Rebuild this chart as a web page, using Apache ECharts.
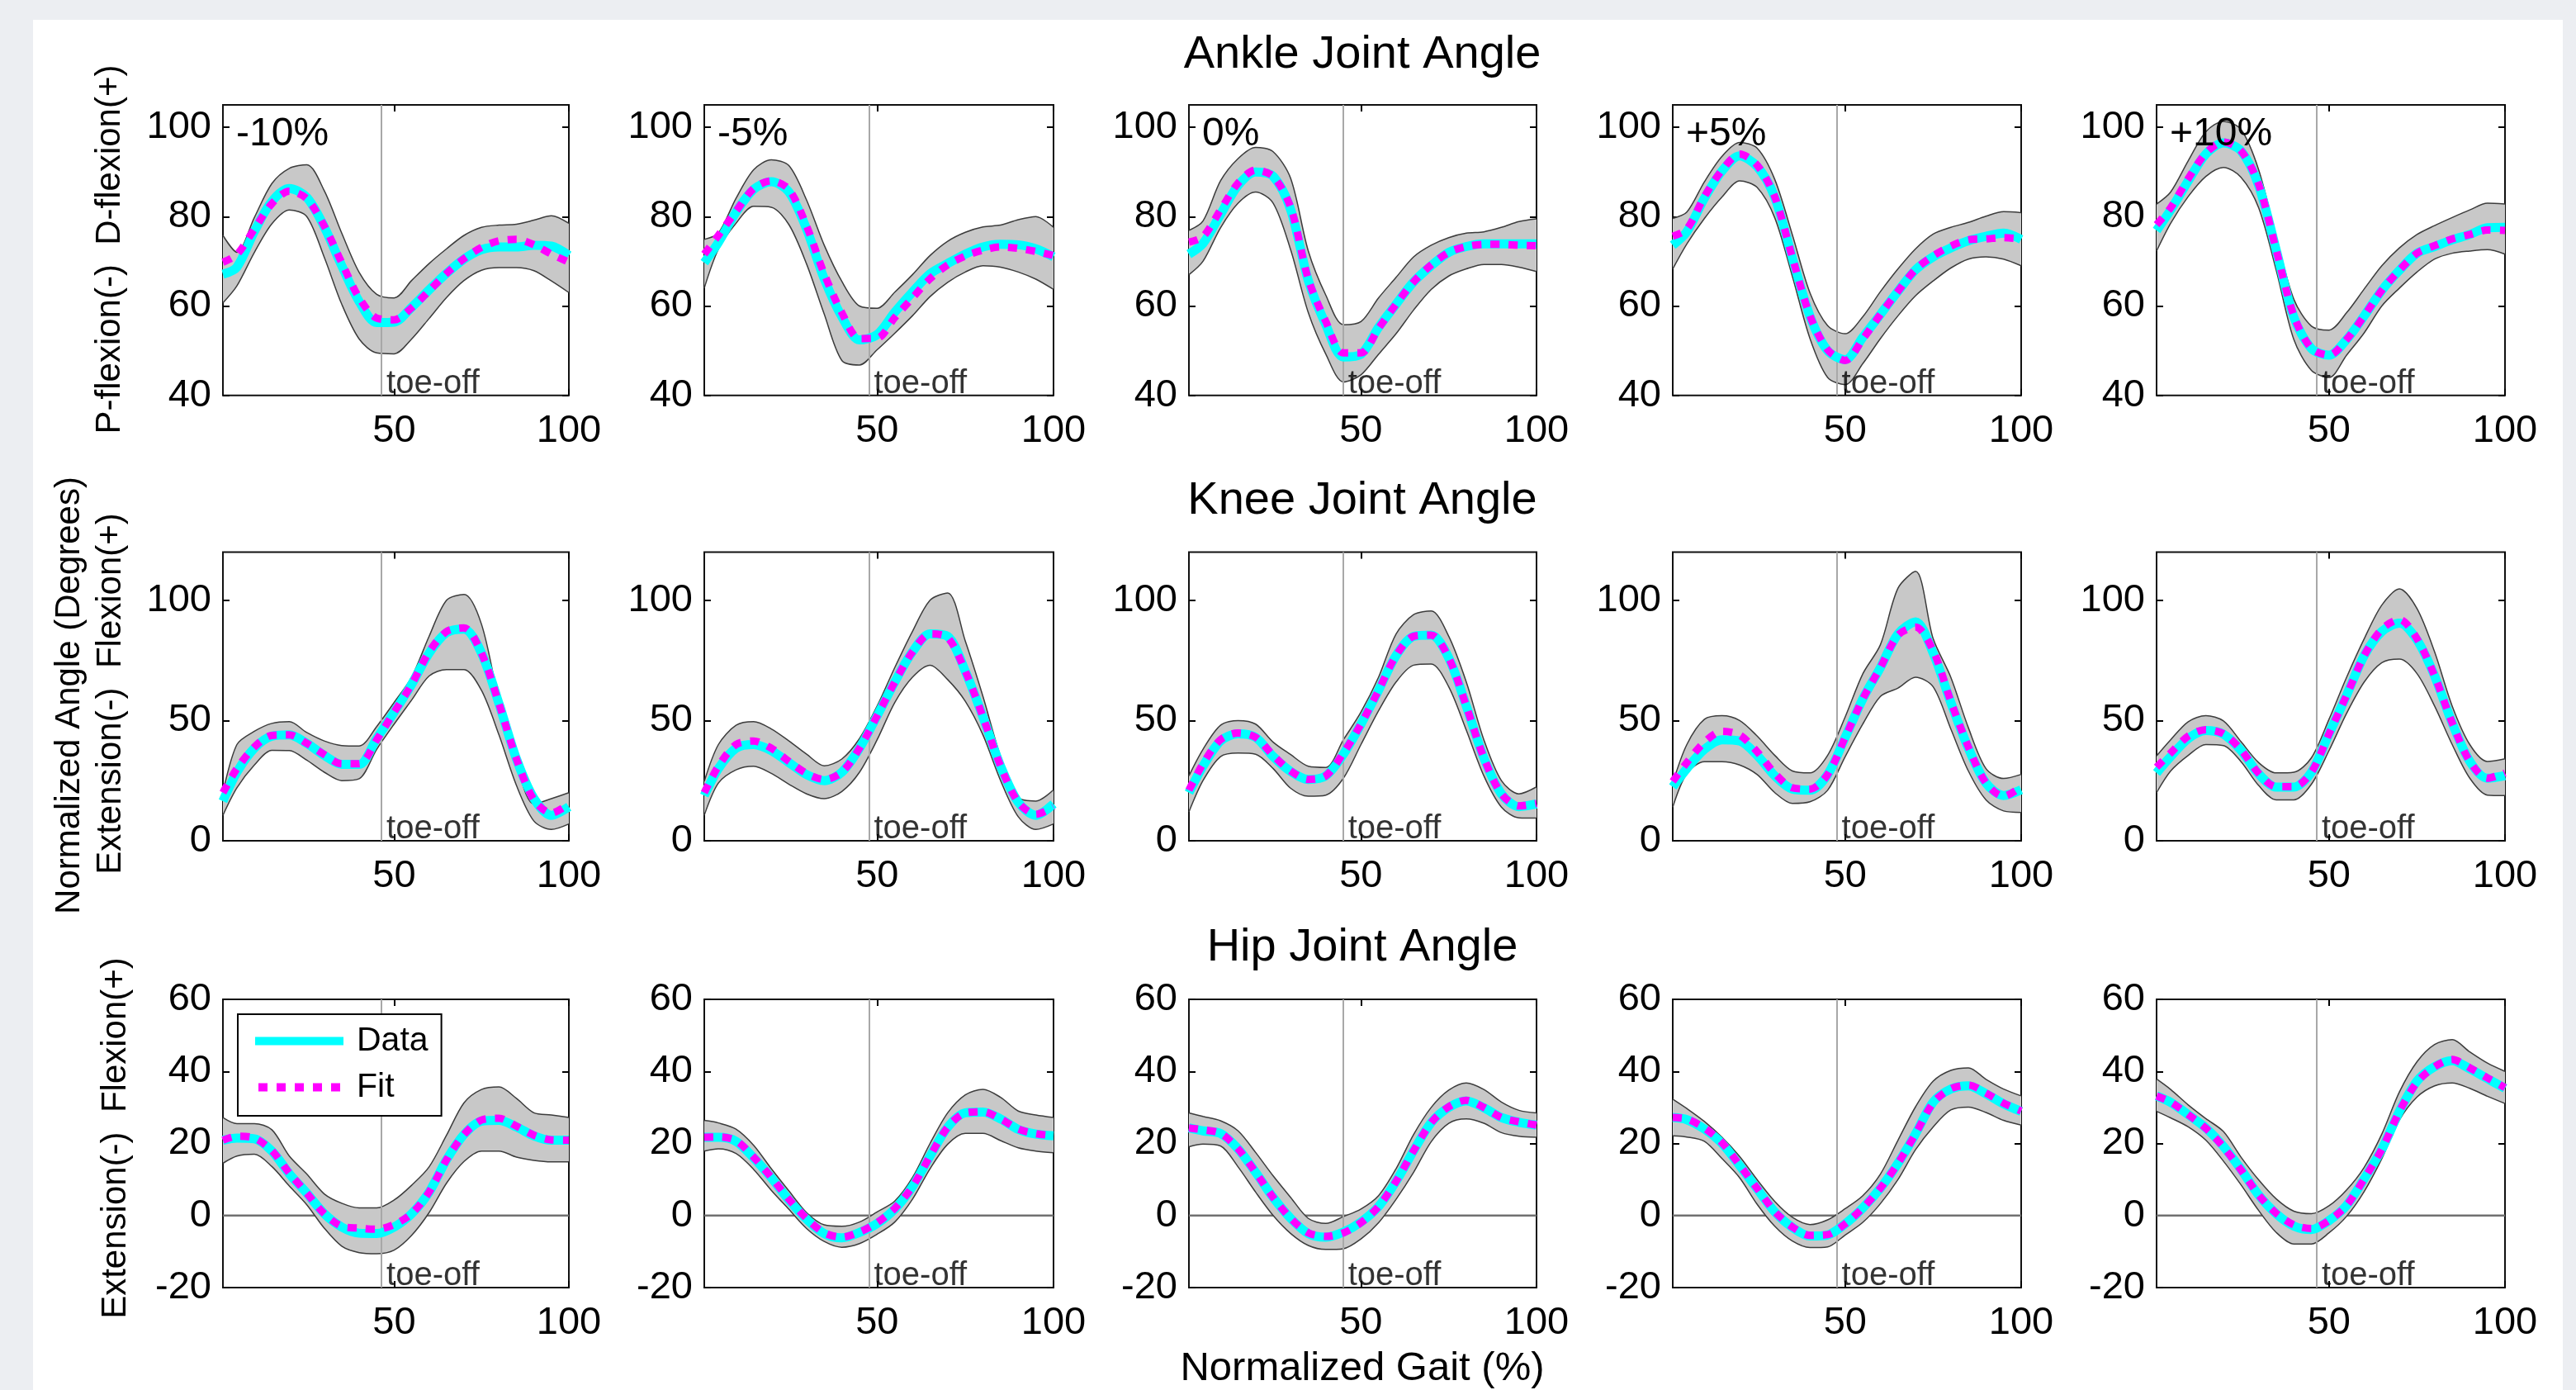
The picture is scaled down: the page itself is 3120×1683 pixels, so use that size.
<!DOCTYPE html>
<html>
<head>
<meta charset="utf-8">
<title>Joint Angles</title>
<script src="https://cdn.jsdelivr.net/npm/echarts@6/dist/echarts.min.js"></script>
<style>
html, body { margin: 0; padding: 0; background: #eceef2; }
#chart { width: 3120px; height: 1683px; }
</style>
</head>
<body>
<div id="chart"></div>
<script>
// gait cycle samples (%)
var gaitPct = [1, 5, 10, 15, 20, 25, 30, 35, 40, 45, 50, 55, 60, 65, 70, 75, 80, 85, 90, 95, 100];
var speeds = ['-10%', '-5%', '0%', '+5%', '+10%'];
var toeOff = [46.4, 47.7, 44.9, 47.6, 46.5];
var gaitTicks = [50, 100];
var ankleTicks = [40, 60, 80, 100];
var kneeTicks = [0, 50, 100];
var hipTicks = [-20, 0, 20, 40, 60];

// ankle: one row per speed
var ankleUpper = [
    [75.8, 72.0, 79.8, 87.4, 90.8, 91.6, 85.8, 76.3, 67.5, 62.6, 61.8, 65.7, 69.5, 72.8, 75.8, 77.6, 78.1, 78.3, 79.2, 80.2, 78.5],
    [74.9, 76.3, 84.1, 90.5, 92.7, 91.4, 83.7, 73.6, 65.5, 60.0, 59.5, 63.1, 67.0, 71.3, 74.5, 76.5, 77.7, 78.1, 79.3, 80.0, 77.6],
    [76.9, 79.0, 88.0, 93.0, 95.5, 94.5, 88.5, 72.3, 62.4, 55.8, 56.5, 61.8, 66.4, 71.0, 73.6, 75.3, 76.3, 76.6, 77.6, 78.9, 79.5],
    [79.6, 81.0, 87.8, 93.5, 96.6, 95.3, 88.3, 75.9, 62.9, 55.6, 53.8, 57.6, 63.2, 68.3, 72.8, 76.1, 77.6, 78.7, 80.1, 81.1, 80.9],
    [82.8, 85.5, 92.5, 99.0, 101.3, 99.5, 90.5, 75.5, 61.5, 55.5, 54.6, 58.5, 63.8, 69.0, 73.0, 76.0, 78.0, 79.8, 81.5, 83.0, 82.8]
];
var ankleLower = [
    [60.7, 64.5, 72.0, 78.4, 81.5, 80.0, 70.9, 60.4, 52.6, 49.5, 49.3, 52.6, 57.2, 61.9, 65.7, 68.0, 68.6, 68.6, 67.9, 65.6, 63.0],
    [64.0, 72.7, 78.5, 82.3, 82.1, 78.2, 69.4, 58.2, 47.8, 46.8, 50.2, 53.9, 57.8, 62.1, 65.3, 67.6, 69.0, 68.7, 67.6, 66.0, 63.7],
    [67.0, 70.0, 77.5, 83.0, 85.5, 83.0, 72.5, 58.5, 49.2, 43.0, 44.6, 49.2, 53.8, 59.1, 63.7, 66.7, 68.3, 69.3, 69.3, 68.7, 67.7],
    [68.3, 73.9, 79.6, 84.4, 88.0, 86.5, 79.7, 66.6, 52.7, 44.0, 42.4, 47.1, 52.7, 57.8, 62.3, 65.6, 68.5, 70.5, 71.0, 70.5, 69.0],
    [72.3, 78.5, 84.5, 89.0, 91.0, 88.8, 82.0, 68.0, 52.5, 45.6, 44.0, 49.0, 54.0, 60.0, 64.0, 67.6, 70.5, 71.8, 72.3, 72.6, 71.6]
];
var ankleData = [
    [67.1, 68.7, 76.7, 83.4, 86.3, 84.3, 77.7, 69.0, 61.0, 56.3, 56.4, 59.7, 63.6, 67.3, 70.5, 72.6, 73.2, 73.2, 73.6, 73.4, 71.3],
    [69.7, 74.2, 81.0, 86.1, 87.8, 85.5, 77.2, 66.1, 57.6, 52.4, 53.6, 58.6, 63.1, 67.2, 69.5, 71.6, 73.2, 73.8, 73.7, 72.8, 71.0],
    [71.6, 74.0, 80.5, 87.0, 90.0, 89.0, 81.5, 65.7, 55.8, 48.6, 49.2, 55.2, 60.4, 65.4, 69.0, 72.0, 73.3, 73.9, 73.9, 73.9, 73.9],
    [73.6, 76.6, 84.1, 90.2, 93.6, 91.2, 84.3, 70.7, 57.7, 50.0, 48.0, 53.0, 58.1, 63.3, 68.1, 71.0, 73.0, 74.6, 75.6, 76.3, 74.9],
    [76.9, 81.5, 88.0, 94.0, 96.5, 94.7, 87.0, 72.5, 57.5, 50.5, 49.0, 52.5, 57.8, 63.5, 68.0, 71.8, 73.3, 74.8, 76.0, 77.5, 77.6]
];
var ankleFit = [
    [69.8, 71.5, 77.2, 82.9, 85.7, 84.0, 77.9, 69.7, 61.8, 57.3, 56.9, 59.6, 63.4, 67.3, 70.6, 73.1, 74.6, 74.9, 73.7, 71.6, 69.8],
    [71.6, 75.8, 81.2, 86.3, 88.0, 86.1, 77.9, 67.2, 58.5, 52.7, 52.8, 57.4, 61.8, 66.1, 69.2, 71.2, 72.5, 73.2, 72.9, 72.2, 71.3],
    [74.3, 75.5, 81.5, 87.5, 90.4, 89.0, 82.0, 66.0, 56.5, 49.5, 49.5, 55.0, 60.4, 65.4, 69.2, 72.0, 73.3, 73.8, 73.8, 73.6, 73.5],
    [75.6, 77.2, 84.5, 90.4, 94.0, 91.5, 84.4, 70.8, 57.8, 50.2, 47.8, 52.6, 58.1, 63.3, 68.2, 71.2, 73.4, 74.8, 75.0, 75.3, 75.0],
    [78.2, 82.0, 88.5, 94.2, 96.7, 94.7, 87.2, 72.5, 57.8, 50.5, 49.0, 52.5, 57.8, 63.5, 68.0, 71.8, 73.5, 75.0, 76.0, 77.0, 76.9]
];

// knee
var kneeUpper = [
    [20.0, 40.0, 45.5, 48.8, 49.5, 45.0, 41.5, 39.6, 39.4, 47.5, 57.5, 68.0, 85.0, 100.0, 102.4, 90.0, 58.0, 32.0, 15.3, 17.5, 20.0],
    [24.7, 40.0, 48.0, 49.5, 46.5, 41.5, 36.0, 31.2, 34.0, 42.5, 56.0, 72.0, 87.0, 100.0, 103.0, 83.0, 60.0, 35.0, 18.0, 16.5, 21.2],
    [27.0, 38.0, 48.0, 50.0, 48.5, 41.0, 35.8, 31.0, 30.5, 42.0, 53.5, 68.0, 86.0, 94.0, 95.5, 85.0, 66.0, 42.0, 25.0, 19.5, 22.4],
    [24.0, 40.0, 50.5, 52.0, 50.0, 43.5, 35.5, 29.0, 28.2, 35.5, 51.5, 69.4, 81.5, 105.0, 112.0, 84.0, 68.0, 47.0, 30.0, 25.9, 27.6],
    [35.3, 42.0, 49.5, 52.0, 49.8, 41.2, 32.5, 28.2, 28.5, 34.5, 50.5, 68.0, 84.0, 98.0, 104.7, 96.5, 78.5, 56.0, 40.0, 33.0, 34.1]
];
var kneeLower = [
    [10.6, 22.0, 31.5, 37.6, 37.5, 33.5, 28.5, 25.0, 25.8, 38.0, 48.5, 58.5, 68.5, 71.2, 71.2, 62.5, 44.0, 23.0, 8.2, 4.7, 7.0],
    [10.6, 24.0, 29.5, 31.0, 28.0, 23.5, 19.5, 17.5, 20.5, 28.5, 42.0, 57.5, 68.0, 73.0, 67.0, 58.0, 44.0, 25.0, 10.0, 4.7, 7.0],
    [12.0, 25.0, 35.0, 36.5, 36.0, 30.0, 21.8, 18.5, 19.0, 26.0, 40.0, 54.0, 66.0, 73.0, 73.5, 64.0, 46.0, 27.0, 14.0, 9.5, 9.4],
    [14.0, 28.0, 32.9, 32.9, 31.5, 27.5, 20.0, 15.5, 16.2, 21.0, 35.0, 48.5, 60.0, 63.5, 68.0, 64.0, 46.5, 29.0, 17.0, 12.4, 11.8],
    [20.0, 29.0, 35.5, 40.0, 39.6, 32.9, 23.0, 17.0, 17.0, 23.5, 37.5, 53.0, 66.0, 74.0, 75.5, 69.5, 56.0, 40.0, 26.0, 19.0, 18.8]
];
var kneeData = [
    [16.5, 28.5, 38.5, 43.5, 44.0, 40.5, 35.5, 31.8, 31.8, 42.5, 53.5, 65.0, 78.0, 86.5, 88.0, 78.0, 57.0, 34.0, 17.6, 10.6, 14.1],
    [18.8, 30.0, 38.5, 40.0, 37.5, 32.5, 27.5, 25.0, 28.5, 38.5, 52.0, 66.0, 78.5, 86.0, 85.0, 70.5, 51.5, 31.0, 16.0, 10.6, 15.3],
    [20.0, 31.0, 41.5, 44.5, 43.0, 35.0, 28.8, 25.5, 27.0, 36.0, 48.5, 62.5, 77.0, 85.0, 85.5, 76.0, 56.0, 34.5, 19.5, 14.2, 15.3],
    [22.4, 30.0, 38.0, 42.0, 41.5, 35.5, 27.0, 21.5, 21.0, 27.5, 43.0, 59.0, 72.0, 86.0, 91.0, 78.0, 57.5, 38.5, 24.0, 18.8, 21.2],
    [28.2, 35.0, 42.5, 45.8, 44.3, 37.6, 27.8, 22.3, 22.3, 28.5, 44.5, 60.5, 77.0, 87.0, 90.5, 83.5, 68.5, 49.0, 33.0, 26.0, 27.1]
];
var kneeFit = [
    [20.0, 30.0, 39.0, 43.8, 44.0, 40.5, 35.8, 32.0, 32.0, 42.0, 53.5, 65.0, 78.5, 87.0, 88.5, 78.0, 57.0, 34.0, 17.0, 11.5, 15.3],
    [20.0, 31.0, 40.0, 41.5, 38.5, 33.0, 28.0, 25.5, 28.5, 38.5, 52.0, 66.0, 78.5, 86.0, 84.5, 70.5, 51.5, 31.0, 16.0, 11.0, 14.1],
    [21.0, 32.0, 42.0, 44.8, 43.0, 35.5, 29.0, 25.5, 27.0, 36.5, 48.5, 62.5, 77.0, 85.0, 85.5, 76.0, 56.0, 34.5, 19.5, 14.5, 15.5],
    [24.7, 32.5, 41.0, 45.5, 44.0, 37.0, 28.0, 22.0, 21.5, 27.5, 43.0, 59.0, 72.0, 85.5, 88.8, 79.0, 58.0, 39.0, 24.0, 18.5, 22.4],
    [30.6, 36.5, 43.5, 46.2, 44.5, 37.8, 28.0, 22.5, 22.5, 28.5, 44.5, 60.5, 77.0, 88.0, 92.0, 84.0, 68.5, 49.0, 33.0, 26.0, 28.2]
];

// hip
var hipUpper = [
    [27.2, 25.5, 25.5, 23.8, 16.5, 11.5, 6.0, 3.4, 2.1, 2.1, 4.3, 8.4, 13.5, 22.3, 31.3, 35.0, 35.7, 32.5, 28.5, 27.9, 27.2],
    [26.4, 25.7, 24.0, 19.5, 13.0, 6.8, 0.8, -2.6, -3.0, -1.8, 1.0, 4.0, 10.5, 20.0, 28.5, 33.5, 35.0, 32.8, 29.0, 27.9, 27.2],
    [28.5, 27.5, 26.3, 23.5, 17.5, 11.0, 5.0, -0.8, -2.2, -0.3, 1.8, 5.5, 13.0, 22.5, 30.0, 34.8, 36.8, 35.0, 31.5, 29.2, 28.5],
    [32.3, 29.7, 26.1, 21.7, 16.4, 9.9, 3.9, -0.5, -2.5, -1.2, 1.9, 5.5, 11.5, 20.9, 30.2, 37.3, 40.3, 41.0, 37.8, 35.1, 33.2],
    [37.9, 35.0, 30.7, 26.9, 23.3, 16.2, 9.9, 4.6, 1.2, 0.5, 2.7, 7.1, 13.4, 22.6, 34.3, 42.7, 47.5, 48.8, 45.4, 42.3, 40.0]
];
var hipLower = [
    [14.5, 16.5, 17.0, 13.6, 8.2, 3.0, -3.5, -8.5, -10.3, -10.6, -9.6, -5.5, 0.8, 9.0, 15.0, 17.9, 17.9, 16.2, 15.3, 14.9, 14.9],
    [17.9, 18.5, 17.2, 12.8, 7.0, 1.7, -3.6, -7.2, -8.8, -7.8, -5.2, -1.8, 4.5, 13.0, 19.8, 22.8, 22.8, 20.8, 18.8, 17.9, 17.4],
    [19.1, 19.8, 19.3, 13.5, 6.5, 0.0, -5.0, -8.3, -9.4, -9.2, -6.5, -2.0, 4.5, 12.0, 20.5, 25.6, 26.8, 25.6, 23.0, 22.0, 21.7],
    [22.1, 21.8, 20.6, 15.8, 10.5, 3.1, -3.0, -7.1, -8.9, -8.7, -5.4, -1.9, 3.3, 10.0, 18.3, 24.6, 29.3, 30.1, 28.6, 26.4, 25.1],
    [28.9, 27.1, 24.6, 20.9, 15.1, 8.5, 1.4, -4.7, -7.9, -7.9, -4.8, -0.2, 6.7, 15.8, 26.5, 32.9, 36.0, 36.8, 35.3, 33.1, 31.1]
];
var hipData = [
    [20.9, 21.5, 21.3, 17.9, 11.6, 6.2, 0.5, -3.2, -4.9, -5.0, -3.2, 0.5, 6.5, 15.5, 22.5, 26.2, 26.4, 24.6, 22.1, 20.9, 20.9],
    [21.7, 21.7, 20.6, 16.0, 10.5, 4.3, -1.0, -5.0, -6.2, -4.7, -2.2, 1.8, 8.0, 16.5, 24.5, 28.5, 28.7, 26.8, 23.9, 22.6, 22.1],
    [24.3, 23.5, 22.8, 18.5, 12.0, 5.0, -0.8, -5.0, -6.0, -4.6, -1.8, 2.5, 9.5, 18.0, 25.8, 30.0, 31.8, 29.9, 27.2, 25.9, 25.1],
    [27.2, 26.6, 24.0, 20.0, 13.9, 7.4, 1.0, -3.3, -5.7, -5.4, -2.3, 2.1, 7.6, 14.5, 22.7, 31.5, 35.1, 36.0, 33.8, 31.0, 28.9],
    [33.2, 31.4, 28.0, 24.3, 19.2, 12.8, 5.7, 0.5, -2.9, -3.9, -1.4, 2.8, 10.2, 18.4, 28.9, 37.3, 41.3, 43.0, 40.7, 38.0, 35.3]
];
var hipFit = [
    [20.9, 22.0, 21.5, 18.0, 11.8, 6.2, 0.5, -3.0, -3.5, -3.8, -2.5, 0.5, 6.5, 15.5, 22.5, 26.5, 27.0, 24.8, 22.3, 21.0, 20.9],
    [21.7, 21.8, 20.8, 16.2, 10.6, 4.5, -0.8, -4.8, -6.0, -4.6, -2.0, 2.0, 8.0, 16.5, 24.5, 28.5, 28.8, 26.8, 24.0, 22.7, 22.2],
    [24.3, 23.8, 22.8, 18.5, 12.0, 5.0, -0.8, -4.8, -5.8, -4.8, -2.0, 2.5, 9.5, 18.0, 25.8, 30.2, 32.0, 30.0, 27.2, 26.0, 25.1],
    [27.2, 26.8, 24.3, 20.2, 14.0, 7.5, 1.1, -3.2, -5.5, -5.3, -2.3, 2.1, 7.6, 14.5, 22.7, 31.3, 35.2, 36.2, 34.0, 31.2, 29.0],
    [33.2, 31.5, 28.0, 24.2, 19.0, 12.6, 5.7, 0.6, -2.6, -3.6, -1.4, 2.8, 10.2, 18.4, 28.9, 37.0, 41.3, 43.3, 41.0, 38.2, 35.5]
];

var FONT = "'Liberation Sans', Arial, Helvetica, sans-serif";
var gridLeft = [270, 853, 1440, 2026, 2612];
var gridWidth = [419, 423, 421, 422, 422];
var gridTop = [127, 668.5, 1210];
var gridHeight = [351.7, 349.5, 349];

var rows = [
    {title: 'Ankle Joint Angle', titleY: 67, min: 40, max: 105, ticks: ankleTicks,
        upper: ankleUpper, lower: ankleLower, data: ankleData, fit: ankleFit},
    {title: 'Knee Joint Angle', titleY: 607, min: 0, max: 120, ticks: kneeTicks,
        upper: kneeUpper, lower: kneeLower, data: kneeData, fit: kneeFit},
    {title: 'Hip Joint Angle', titleY: 1148, min: -20, max: 60, ticks: hipTicks, zero: true,
        upper: hipUpper, lower: hipLower, data: hipData, fit: hipFit}
];

function pairs(vals) {
    return gaitPct.map(function (x, i) {
        return [x, vals[i]];
    });
}
// value first, so the band stack is done on the y dimension
function stackPairs(vals) {
    return gaitPct.map(function (x, i) {
        return [vals[i], x];
    });
}

var grids = [], xAxes = [], yAxes = [], series = [], graphics = [];

graphics.push({type: 'rect', z: -10, silent: true,
    shape: {x: 40, y: 24, width: 3064, height: 1659}, style: {fill: '#ffffff'}});

rows.forEach(function (row, r) {
    graphics.push({type: 'text', x: 1650, y: row.titleY, z: 20, silent: true,
        style: {text: row.title, fontSize: 56, fontFamily: FONT, fill: '#000', align: 'center', verticalAlign: 'middle'}});

    for (var c = 0; c < 5; c++) {
        var g = r * 5 + c;
        grids.push({left: gridLeft[c], top: gridTop[r], width: gridWidth[c], height: gridHeight[r],
            show: true, backgroundColor: '#fff', borderColor: '#111', borderWidth: 2});

        var tick = {show: true, inside: true, length: 8, lineStyle: {color: '#000', width: 2}};
        xAxes.push({gridIndex: g, type: 'value', position: 'bottom', min: 1, max: 100,
            axisLine: {show: false, onZero: false}, splitLine: {show: false},
            axisTick: Object.assign({customValues: gaitTicks}, tick),
            axisLabel: {customValues: gaitTicks, fontSize: 47, fontFamily: FONT, color: '#000', margin: 20}});
        xAxes.push({gridIndex: g, type: 'value', position: 'top', min: 1, max: 100,
            axisLine: {show: false, onZero: false}, splitLine: {show: false},
            axisTick: Object.assign({customValues: gaitTicks}, tick), axisLabel: {show: false}});
        yAxes.push({gridIndex: g, type: 'value', position: 'left', min: row.min, max: row.max,
            axisLine: {show: false, onZero: false}, splitLine: {show: false},
            axisTick: Object.assign({customValues: row.ticks}, tick),
            axisLabel: {customValues: row.ticks, fontSize: 47, fontFamily: FONT, color: '#000', margin: 14}});
        yAxes.push({gridIndex: g, type: 'value', position: 'right', min: row.min, max: row.max,
            axisLine: {show: false, onZero: false}, splitLine: {show: false},
            axisTick: Object.assign({customValues: row.ticks}, tick), axisLabel: {show: false}});

        var xi = 2 * g, yi = 2 * g;
        var lower = row.lower[c], upper = row.upper[c];
        var spread = upper.map(function (v, i) {
            return +(v - lower[i]).toFixed(2);
        });

        if (row.zero) {
            series.push({type: 'line', name: 'zero', xAxisIndex: xi, yAxisIndex: yi, z: 1, silent: true,
                data: [[1, 0], [100, 0]], symbol: 'none', lineStyle: {color: '#707070', width: 2.5}});
        }
        series.push({type: 'line', name: 'sdLow', xAxisIndex: xi, yAxisIndex: yi, z: 2, silent: true,
            encode: {x: 1, y: 0}, stack: 'sd' + g, stackStrategy: 'all', data: stackPairs(lower),
            symbol: 'none', smooth: 0.3, lineStyle: {color: '#3c3c3c', width: 1.5}});
        series.push({type: 'line', name: 'sdHigh', xAxisIndex: xi, yAxisIndex: yi, z: 2, silent: true,
            encode: {x: 1, y: 0}, stack: 'sd' + g, stackStrategy: 'all', data: stackPairs(spread),
            symbol: 'none', smooth: 0.3,
            lineStyle: {color: '#3c3c3c', width: 1.5}, areaStyle: {color: '#c8c8c8', opacity: 1},
            markLine: {silent: true, z: 3, symbol: ['none', 'none'], label: {show: false},
                lineStyle: {color: '#a8a8a8', width: 2, type: 'solid'}, data: [{xAxis: toeOff[c]}]}});
        series.push({type: 'line', name: 'Data', xAxisIndex: xi, yAxisIndex: yi, z: 4, silent: true,
            color: '#00ffff', data: pairs(row.data[c]), symbol: 'none', smooth: 0.3,
            lineStyle: {color: '#00ffff', width: 11}});
        series.push({type: 'line', name: 'Fit', xAxisIndex: xi, yAxisIndex: yi, z: 5, silent: true,
            color: '#ff00ff', data: pairs(row.fit[c]), symbol: 'none', smooth: 0.3,
            lineStyle: {color: '#ff00ff', width: 9, type: [11, 11], cap: 'butt'}});
        series.push({type: 'scatter', name: 'toe', xAxisIndex: xi, yAxisIndex: yi, z: 6, silent: true,
            data: [[toeOff[c], row.min]], symbolSize: 0.1, itemStyle: {color: 'transparent'},
            label: {show: true, formatter: 'toe-off', position: [6, 6], align: 'left', verticalAlign: 'bottom',
                fontSize: 40, fontFamily: FONT, color: '#000'}});

        if (r === 0) {
            graphics.push({type: 'text', x: gridLeft[c] + 16, y: 163, z: 20, silent: true,
                style: {text: speeds[c], fontSize: 48, fontFamily: FONT, fill: '#000', align: 'left', verticalAlign: 'middle'}});
        }
    }
});

// axis titles
[
    {text: 'P-flexion(-)  D-flexion(+)', x: 133, y: 302},
    {text: 'Normalized Angle (Degrees)', x: 84, y: 842},
    {text: 'Extension(-)  Flexion(+)', x: 134, y: 840},
    {text: 'Extension(-)  Flexion(+)', x: 140, y: 1378}
].forEach(function (t) {
    graphics.push({type: 'text', x: t.x, y: t.y, rotation: Math.PI / 2, z: 20, silent: true,
        style: {text: t.text, fontSize: 42, fontFamily: FONT, fill: '#000', align: 'center', verticalAlign: 'middle'}});
});
graphics.push({type: 'text', x: 1650, y: 1657, z: 20, silent: true,
    style: {text: 'Normalized Gait (%)', fontSize: 49, fontFamily: FONT, fill: '#000', align: 'center', verticalAlign: 'middle'}});

var chart = echarts.init(document.getElementById('chart'), null, {renderer: 'canvas'});
chart.setOption({
    backgroundColor: '#eceef2',
    animation: false,
    textStyle: {fontFamily: FONT},
    legend: {
        show: true, selectedMode: false, orient: 'vertical', left: 288, top: 1228, z: 10,
        padding: [12, 16, 14, 21], itemGap: 15, itemWidth: 107, itemHeight: 10,
        backgroundColor: '#fff', borderColor: '#000', borderWidth: 2,
        textStyle: {fontSize: 41, lineHeight: 41, fontFamily: FONT, color: '#000', padding: [0, 0, 0, 11]},
        data: [
            {name: 'Data', icon: 'rect'},
            {name: 'Fit', icon: 'path://M0,0h11v10h-11zM22,0h11v10h-11zM44,0h11v10h-11zM66,0h11v10h-11zM88,0h11v10h-11z'}
        ]
    },
    grid: grids,
    xAxis: xAxes,
    yAxis: yAxes,
    series: series,
    graphic: graphics
});
</script>
</body>
</html>
